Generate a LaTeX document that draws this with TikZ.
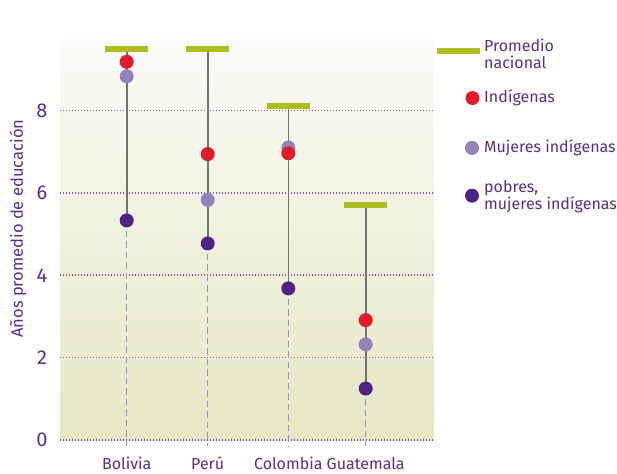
\documentclass[tikz,border=0pt]{standalone}
\usepackage{fontspec}
\setmainfont{Fira Sans}
\usetikzlibrary{backgrounds}
\definecolor{txtpurple}{HTML}{5A2D8C}
\definecolor{indred}{HTML}{E01B2A}
\definecolor{mujlav}{HTML}{9581BB}
\definecolor{pobdark}{HTML}{4F2384}
\definecolor{promolive}{HTML}{AEBD1F}
\definecolor{gridpurple}{HTML}{7A5FA8}
\definecolor{dashlav}{HTML}{A090CA}
\definecolor{bgtop}{HTML}{FBFBF7}
\definecolor{bgbottom}{HTML}{E5E7C4}
\tikzset{
  dot/.style={circle, inner sep=0pt, minimum size=14pt},
  indig/.style={dot, fill=indred},
  mujer/.style={dot, fill=mujlav},
  pobre/.style={dot, fill=pobdark},
  promedio/.style={fill=promolive, inner sep=0pt, minimum width=43pt, minimum height=6pt},
  rango/.style={draw=black!55, line width=1.6pt},
  guia/.style={dashlav, line width=1.3pt, dash pattern=on 6.5pt off 4pt},
  rejilla/.style={gridpurple, line width=1.6pt, dash pattern=on 1.4pt off 1.6pt},
  etiq/.style={text=txtpurple, font=\fontsize{16}{18}\selectfont},
  leyenda/.style={etiq, anchor=west, align=left, inner sep=0pt}
}
\begin{document}
\begin{tikzpicture}[x=1pt, y=41.2pt]
    \useasboundingbox (0,-0.801) rectangle (617,10.680);
    % promedio nacional
    \node [promedio] (bolp) at (126.7, 9.5) {};
    \node [promedio] (perp) at (207.7, 9.5) {};
    \node [promedio] (colp) at (288.3, 8.11) {};
    \node [promedio] (guap) at (365.7, 5.7) {};
    % pobres, mujeres indigenas
    \node [pobre] (bolpo) at (126.7, 5.33) {};
    \node [pobre] (perpo) at (207.7, 4.77) {};
    \node [pobre] (colpo) at (288.3, 3.68) {};
    \node [pobre] (guapo) at (365.7, 1.25) {};
    % mujeres indigenas
    \node [mujer] (bolm) at (126.7, 8.83) {};
    \node [mujer] (perm) at (207.7, 5.83) {};
    \node [mujer] (colm) at (288.3, 7.10) {};
    \node [mujer] (guam) at (365.7, 2.32) {};
    % indigenas
    \node [indig] (boli) at (126.7, 9.18) {};
    \node [indig] (peri) at (207.7, 6.94) {};
    \node [indig] (coli) at (288.3, 6.96) {};
    \node [indig] (guai) at (365.7, 2.91) {};
    \coordinate (bolb) at (126.7, -0.15);
    \coordinate (perb) at (207.7, -0.15);
    \coordinate (colb) at (288.3, -0.15);
    \coordinate (guab) at (365.7, -0.15);
    \begin{pgfonlayer}{background}
        \shade [top color=bgtop, bottom color=bgbottom] (60, 0) rectangle (433.3, 9.71);
        \foreach \v in {0, 2, 4, 6, 8}
            \draw [rejilla] (60, \v) -- (433.3, \v);
        \foreach \c in {bol, per, col, gua} {
            \draw [rango] (\c p.center) -- (\c po.center);
            \draw [guia] (\c po.center) -- (\c b);
        }
    \end{pgfonlayer}
    % ejes
    \foreach \v in {0, 2, 4, 6, 8}
        \node [text=txtpurple, font=\fontsize{20}{22}\selectfont] (y\v) at (42, \v) {\v};
    \node [etiq, font=\fontsize{16.5}{18}\selectfont, rotate=90] (ytit) at (18, 5.13) {Años promedio de educación};
    \node [etiq, anchor=base, inner sep=0pt] (bolt) at (126.7, -0.72) {Bolivia};
    \node [etiq, anchor=base, inner sep=0pt] (pert) at (207.7, -0.72) {Perú};
    \node [etiq, anchor=base, inner sep=0pt] (colt) at (288.3, -0.72) {Colombia};
    \node [etiq, anchor=base, inner sep=0pt] (guat) at (365.7, -0.72) {Guatemala};
    % leyenda
    \node [promedio] (lprom) at (458.5, 9.45) {};
    \node [leyenda] (lpromt) at (484, 9.37) {Promedio\\[-1.5pt]nacional};
    \node [indig] (lind) at (472.5, 8.30) {};
    \node [leyenda] (lindt) at (484, 8.30) {Indígenas};
    \node [mujer] (lmuj) at (472, 7.09) {};
    \node [leyenda] (lmujt) at (484, 7.09) {Mujeres indígenas};
    \node [pobre] (lpob) at (472, 5.93) {};
    \node [leyenda] (lpobt) at (484, 5.91) {pobres,\\[-1.5pt]mujeres indígenas};
\end{tikzpicture}
\end{document}
